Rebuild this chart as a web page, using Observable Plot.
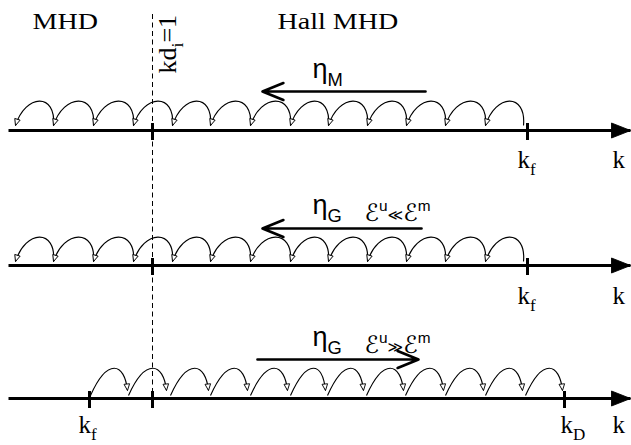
<!DOCTYPE html>
<html><head><meta charset="utf-8">
<script src="https://cdn.jsdelivr.net/npm/d3@7"></script>
<script src="https://cdn.jsdelivr.net/npm/@observablehq/plot@0.6"></script>
<style>body{margin:0;background:#fff}</style>
</head><body><div id="chart"></div>
<script>
// ---- data (positions, in page-pixel units) ----
const rowY = [130, 265, 398];          // the three k axes
const axisStartX = 8;
const axisEndX = 630;
const kdiX = 152;                      // kd_i = 1 boundary
const dashTop = 14, dashBottom = 402;

const tickRow = [0, 0, 1, 1, 2, 2, 2];
const tickX = [152, 527, 152, 527, 89, 152, 564];

// cascade arcs: feet of successive humps (rows 1 and 2 leftward, row 3 rightward)
const arcFeet1 = [15, 53, 93, 133, 172, 210, 250, 290, 328, 367, 406, 445, 485, 523];
const arcFeet2 = [15, 53, 93, 133, 172, 210, 250, 290, 328, 367, 406, 445, 485, 523];
const arcStart3 = [90, 128, 170, 210, 250, 290, 327, 366, 405, 445, 485, 525];
const arcEnd3 = [127, 166, 208, 247, 287, 325, 363, 403, 443, 483, 522, 562];
const arcFootLift = [5, 4, 3];         // feet sit just above the axis

// big transfer arrows
const bigArrowFrom = [425, 421, 257];
const bigArrowTo = [262, 262, 418];
const bigArrowY = [91, 228, 359];

// labels
const regionLabels = ["MHD", "Hall MHD"];
const regionLabelX = [32, 277];
const regionLabelY = [28, 28];
const kdiLabel = "kd_{i}=1";
const kLabels = ["k_{f}", "k", "k_{f}", "k", "k_{f}", "k_{D}", "k"];
const kLabelX = [517, 612, 517, 612, 78, 560, 612];
const kLabelY = [167, 167, 303, 303, 432, 432, 432];
const etaLabels = ["η_{M}", "η_{G}", "η_{G}"];
const etaX = [312, 312, 312];
const etaY = [77, 213, 345];
const ratioLabels = ["ℰ^{u}!{≪}ℰ^{m}", "ℰ^{u}!{≫}ℰ^{m}"];
const ratioX = [364, 364];
const ratioY = [220, 352];

// ---- derived tables ----
const axes = rowY.map((y) => ({x1: axisStartX, x2: axisEndX, y}));
const ticks = tickX.map((x, i) => ({x, y: rowY[tickRow[i]]}));
const arcsLeft = [];
[arcFeet1, arcFeet2].forEach((feet, r) => {
  for (let i = 0; i < feet.length - 1; i++)
    arcsLeft.push({x1: feet[i + 1], x2: feet[i], y: rowY[r] - arcFootLift[r]});
});
const arcsRight = arcStart3.map((s, i) => ({x1: s, x2: arcEnd3[i], y1: rowY[2] - arcFootLift[2], y2: rowY[2] - 8}));
const bigArrows = bigArrowFrom.map((x1, i) => ({x1, x2: bigArrowTo[i], y: bigArrowY[i]}));

// ---- custom curves (hump shapes) ----
function humpCurve(opts) {
  return (context) => {
    let pts = [];
    return {
      lineStart() { pts = []; },
      point(x, y) { pts.push([x, y]); },
      lineEnd() {
        const [a, b] = pts;
        const dir = Math.sign(b[0] - a[0]);
        context.moveTo(a[0], a[1]);
        context.bezierCurveTo(
          a[0] + dir * opts.c1x, a[1] - opts.h1,
          b[0] - dir * opts.c2x, b[1] - opts.h2,
          b[0], b[1]);
      },
      areaStart() {}, areaEnd() {}
    };
  };
}
const leftHump = humpCurve({c1x: -3, h1: 33, c2x: 10, h2: 32});
const rightHump = humpCurve({c1x: 17, h1: 38, c2x: 3, h2: 28});

// ---- markers ----
const NS = "http://www.w3.org/2000/svg";
function makeMarker(color, d, fill, vb, w, h) {
  const m = document.createElementNS(NS, "marker");
  m.setAttribute("viewBox", vb);
  m.setAttribute("markerWidth", w);
  m.setAttribute("markerHeight", h);
  m.setAttribute("markerUnits", "userSpaceOnUse");
  m.setAttribute("orient", "auto");
  m.setAttribute("refX", 0);
  m.setAttribute("refY", 0);
  const p = document.createElementNS(NS, "path");
  p.setAttribute("d", d);
  p.setAttribute("fill", fill === "color" ? color : fill);
  p.setAttribute("stroke", color);
  p.setAttribute("stroke-width", 0.9);
  p.setAttribute("stroke-linejoin", "miter");
  m.appendChild(p);
  return m;
}
const hollowTri = (color) => makeMarker(color, "M0,0L-6.5,-2.8L-6.5,2.8Z", "white", "-8 -4 9 8", 9, 8);
const solidTri = (color) => makeMarker(color, "M0,0L-19,-7.5L-19,7.5Z", "color", "-20 -9 21 18", 21, 18);

const serif = "'Liberation Serif', 'Times New Roman', serif";
const sans = "'Liberation Sans', Arial, 'DejaVu Sans', sans-serif";

const chart = Plot.plot({
  width: 631,
  height: 445,
  margin: 0,
  x: {domain: [0, 631], range: [0, 631], axis: null},
  y: {domain: [0, 445], range: [0, 445], axis: null},
  style: {background: "white", color: "black", overflow: "visible"},
  marks: [
    Plot.ruleX([kdiX], {x: (d) => d, y1: dashTop, y2: dashBottom, stroke: "black", strokeWidth: 1, strokeDasharray: "5,3.5"}),
    Plot.link(axes, {x1: "x1", x2: "x2", y1: "y", y2: "y", stroke: "black", strokeWidth: 3, markerEnd: solidTri}),
    Plot.ruleX(ticks, {x: "x", y1: (d) => d.y - 7, y2: (d) => d.y + 10, stroke: "black", strokeWidth: 3}),
    Plot.link(arcsLeft, {x1: "x1", x2: "x2", y1: "y", y2: "y", curve: leftHump, stroke: "black", strokeWidth: 1.15, markerEnd: hollowTri}),
    Plot.link(arcsRight, {x1: "x1", x2: "x2", y1: "y1", y2: "y2", curve: rightHump, stroke: "black", strokeWidth: 1.15, markerEnd: hollowTri}),
    Plot.arrow(bigArrows, {x1: "x1", x2: "x2", y1: "y", y2: "y", stroke: "black", strokeWidth: 2.7, headAngle: 44, headLength: 12.5}),
    Plot.text(regionLabels, {x: (d, i) => regionLabelX[i], y: (d, i) => regionLabelY[i], text: (d) => d, textAnchor: "start", lineAnchor: "bottom", fontFamily: serif, fontSize: 23, fill: "black"}),
    Plot.text([kdiLabel], {x: () => kdiX + 23, y: () => 73, text: (d) => d, rotate: -90, textAnchor: "start", lineAnchor: "bottom", fontFamily: serif, fontSize: 26, fill: "black"}),
    Plot.text(kLabels, {x: (d, i) => kLabelX[i], y: (d, i) => kLabelY[i], text: (d) => d, textAnchor: "start", lineAnchor: "bottom", fontFamily: serif, fontSize: 25, fill: "black"}),
    Plot.text(etaLabels, {x: (d, i) => etaX[i], y: (d, i) => etaY[i], text: (d) => d, textAnchor: "start", lineAnchor: "bottom", fontFamily: sans, fontSize: 27, fill: "black"}),
    Plot.text(ratioLabels, {x: (d, i) => ratioX[i], y: (d, i) => ratioY[i], text: (d) => d, textAnchor: "start", lineAnchor: "bottom", fontFamily: sans, fontSize: 24, fill: "black"})
  ]
});
document.getElementById("chart").appendChild(chart);

// turn _{..} / ^{..} / !{..} markup into real sub/superscript tspans
function richText(svg) {
  svg.querySelectorAll("text").forEach((t) => {
    const s = t.textContent;
    if (!/[_^!]\{/.test(s)) return;
    const fs = parseFloat(getComputedStyle(t).fontSize);
    while (t.firstChild) t.removeChild(t.firstChild);
    const re = /([_^!])\{([^}]*)\}|([^_^!]+)/g;
    let m, shift = 0;
    while ((m = re.exec(s))) {
      const ts = document.createElementNS(NS, "tspan");
      let target = 0, size = null;
      if (m[1] === "_") { target = 0.3 * fs; size = 0.68 * fs; ts.textContent = m[2]; }
      else if (m[1] === "^") { target = -0.38 * fs; size = 0.64 * fs; ts.textContent = m[2]; }
      else if (m[1] === "!") { target = -0.02 * fs; size = 0.62 * fs; ts.textContent = m[2]; }
      else ts.textContent = m[3];
      const dy = target - shift; shift = target;
      if (dy) ts.setAttribute("dy", dy);
      if (size) ts.setAttribute("font-size", size);
      t.appendChild(ts);
    }
  });
}
richText(chart);

// the region titles are set in a wide face in the reference: stretch them horizontally
chart.querySelectorAll("text").forEach((t) => {
  if (!regionLabels.includes(t.textContent)) return;
  const tr = t.getAttribute("transform");
  if (tr) {
    t.setAttribute("transform", tr + " scale(1.22,1)");
  } else {
    const x = +t.getAttribute("x") || 0, y = +t.getAttribute("y") || 0;
    t.setAttribute("x", 0); t.setAttribute("y", 0);
    t.setAttribute("transform", `translate(${x},${y}) scale(1.22,1)`);
  }
});
</script>
</body></html>
